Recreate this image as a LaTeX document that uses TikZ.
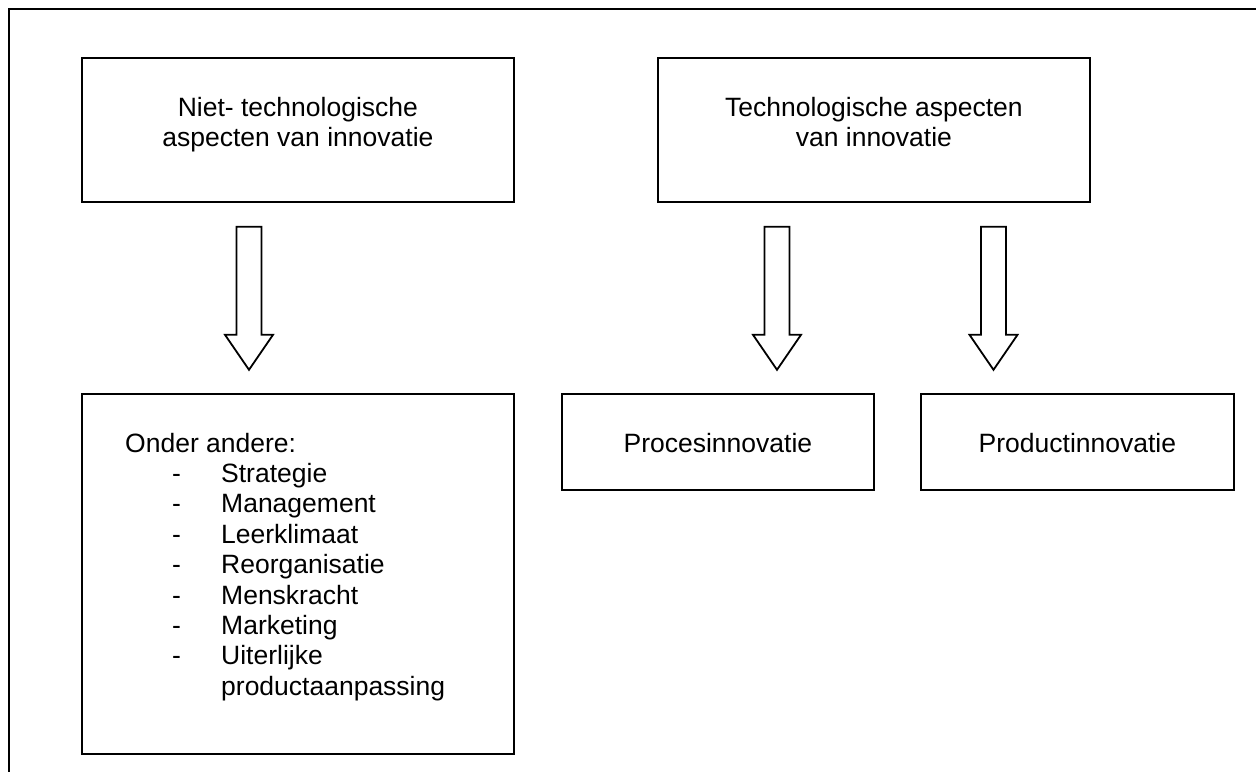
\documentclass[tikz,border=0pt]{standalone}
\usepackage{fontspec}
\setmainfont{Liberation Sans}
\usetikzlibrary{calc}
\begin{document}
\begin{tikzpicture}[x=1pt,y=-1pt,
  box/.style={draw=black, line width=1.8pt, rectangle, inner sep=0pt, anchor=north west},
  lbl/.style={inner sep=0pt, font=\fontsize{26.5}{30.4}\selectfont},
  blockarr/.style={draw=black, line width=1.8pt, line join=miter, fill=white},
  pics/downarrow/.style={code={
    \draw[blockarr] (-12.5,0) -- (12.5,0) -- (12.5,108) -- (24,108)
      -- (0,143) -- (-24,108) -- (-12.5,108) -- cycle;}}]

% page area and the outer frame (open to the right and bottom)
\useasboundingbox[fill=white] (0,0) rectangle (1256,772);
\draw[line width=1.8pt] (1256,9) -- (9,9) -- (9,772);

% boxes
\node[box, minimum width=432pt, minimum height=144pt] (nontech) at (81,57) {};
\node[box, minimum width=432pt, minimum height=144pt] (tech) at (657,57) {};
\node[box, minimum width=432pt, minimum height=360pt] (list) at (81,393) {};
\node[box, minimum width=312pt, minimum height=96pt] (proces) at (561,393) {};
\node[box, minimum width=313pt, minimum height=96pt] (product) at (920,393) {};

% box texts
\node[lbl, anchor=base] (nontechtxt) at ($(nontech.north)+(0,59)$)
  {\begin{tabular}[t]{@{}c@{}}Niet- technologische\\aspecten van innovatie\end{tabular}};
\node[lbl, anchor=base] (techtxt) at ($(tech.north)+(0,59)$)
  {\begin{tabular}[t]{@{}c@{}}Technologische aspecten\\van innovatie\end{tabular}};
\node[lbl, anchor=base west] (listtxt) at ($(list.north west)+(44,59)$)
  {\begin{tabular}[t]{@{}p{96pt}@{}l@{}}
    \multicolumn{2}{@{}l@{}}{Onder andere:}\\
    \hspace*{47pt}- & Strategie\\
    \hspace*{47pt}- & Management\\
    \hspace*{47pt}- & Leerklimaat\\
    \hspace*{47pt}- & Reorganisatie\\
    \hspace*{47pt}- & Menskracht\\
    \hspace*{47pt}- & Marketing\\
    \hspace*{47pt}- & Uiterlijke\\
                    & productaanpassing
  \end{tabular}};
\node[lbl, anchor=base] (procestxt) at ($(proces.north)+(0,59)$) {Procesinnovatie};
\node[lbl, anchor=base] (producttxt) at ($(product.north)+(0,59)$) {Productinnovatie};

% block arrows between the levels
\coordinate (a1) at ($(nontech.south west)+(168,24)$);
\coordinate (a2) at ($(tech.south west)+(120,24)$);
\coordinate (a3) at ($(tech.south west)+(336.5,24)$);
\pic at (a1) {downarrow};
\pic at (a2) {downarrow};
\pic at (a3) {downarrow};
\end{tikzpicture}
\end{document}
